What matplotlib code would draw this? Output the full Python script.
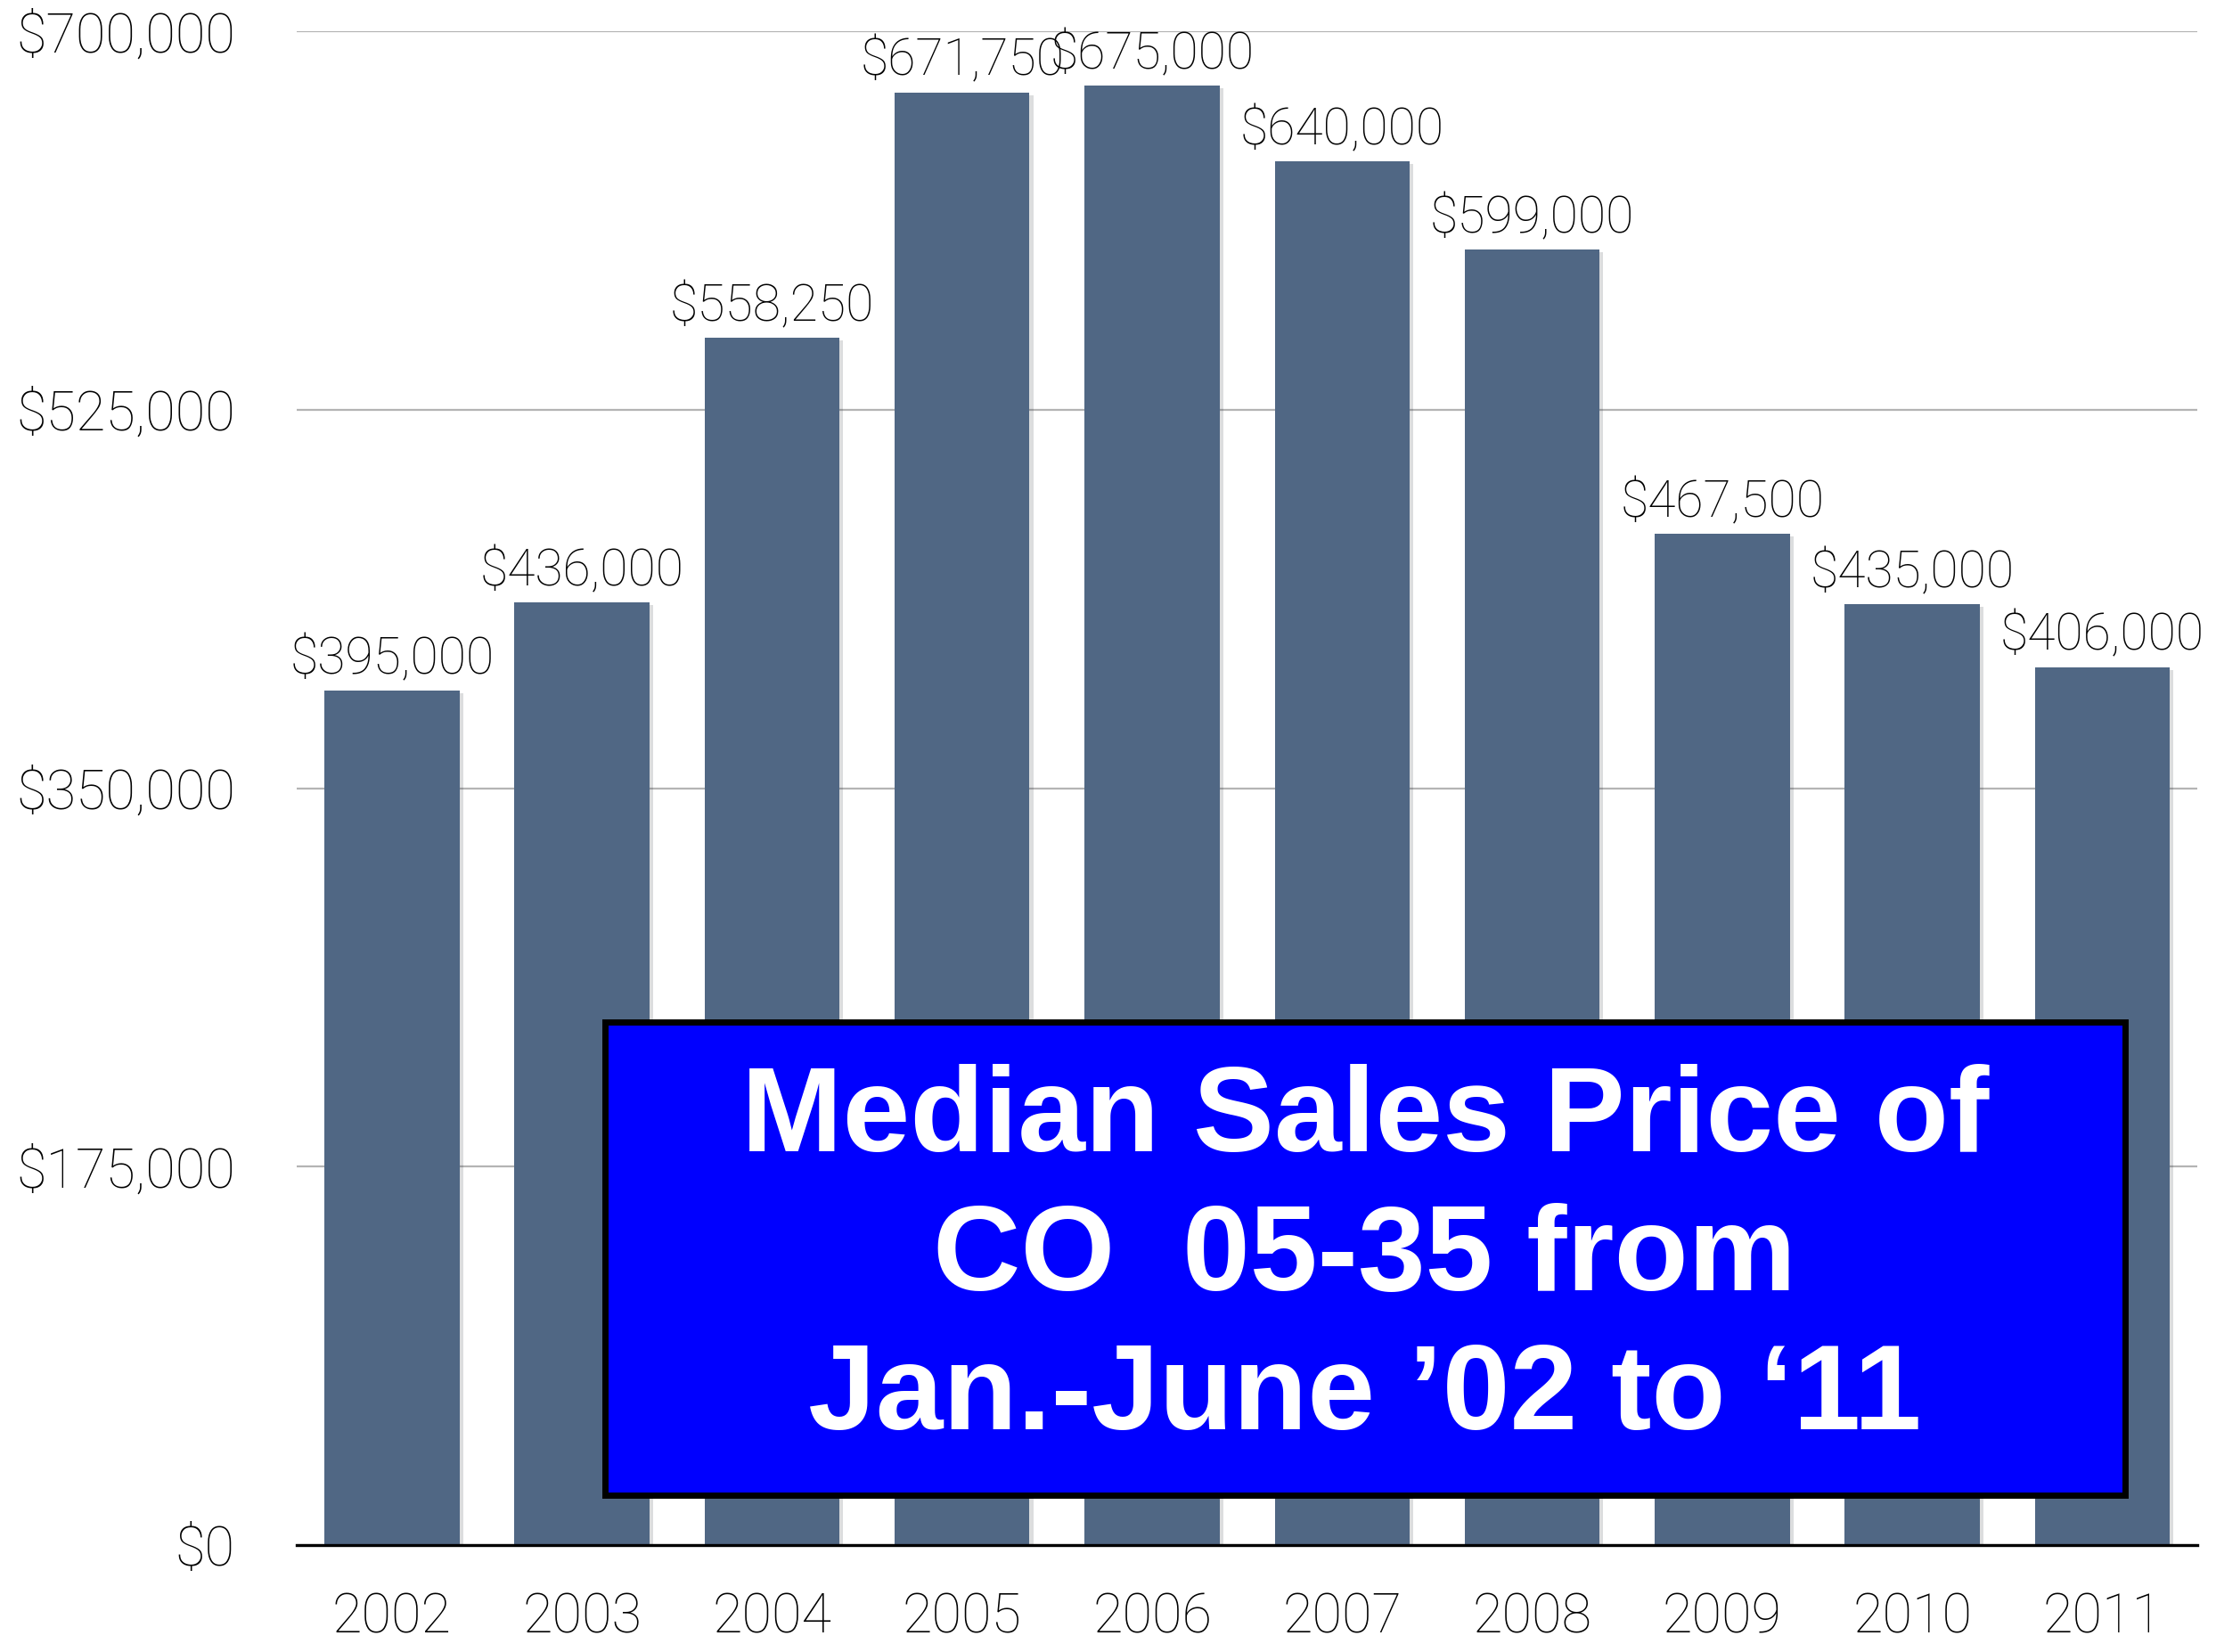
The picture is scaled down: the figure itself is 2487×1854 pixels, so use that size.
import matplotlib.pyplot as plt
from matplotlib import patches
from matplotlib import patheffects as pe
from matplotlib.ticker import FuncFormatter

## median sales price bar chart with boxed title

years = ['2002', '2003', '2004', '2005', '2006', '2007', '2008', '2009', '2010', '2011']
prices = [395000, 436000, 558250, 671750, 675000, 640000, 599000, 467500, 435000, 406000]
yticks = [0, 175000, 350000, 525000, 700000]
title_lines = ['Median Sales Price of', 'CO  05-35 from', 'Jan.-June \u201902 to \u201811']

bar_color = '#506784'
light_font = ['Roboto', 'DejaVu Sans']

fig = plt.figure(figsize=(24.87, 18.54), dpi=100)
ax = fig.add_axes([0.134, 0.0647, 0.8576, 0.9163])

x = range(len(years))
bars = ax.bar(x, prices, width=0.71, color=bar_color, zorder=3)
for b in bars:
    b.set_path_effects([pe.SimplePatchShadow(offset=(3, -2), alpha=0.15), pe.Normal()])

# value labels above bars
for xi, v in zip(x, prices):
    ax.annotate('${:,.0f}'.format(v), (xi, v), xytext=(0, 5), textcoords='offset points',
                ha='center', va='bottom', fontsize=41, family=light_font,
                fontweight='light', color='black', zorder=4)

ax.set_xlim(-0.5, len(years) - 0.5)
ax.set_ylim(0, 700000)
ax.set_yticks(yticks)
ax.yaxis.set_major_formatter(FuncFormatter(lambda v, p: '${:,.0f}'.format(v)))
ax.set_xticks(list(x))
ax.set_xticklabels(years)
ax.tick_params(length=0)
ax.tick_params(axis='y', pad=50)
ax.tick_params(axis='x', pad=38)
for lab in ax.get_xticklabels() + ax.get_yticklabels():
    lab.set_family(light_font)
    lab.set_fontweight('light')
    lab.set_fontsize(44)
    lab.set_color('black')

ax.grid(axis='y', color='#b4b4b4', linewidth=1.6, zorder=0)
for s in ['top', 'right', 'left']:
    ax.spines[s].set_visible(False)
ax.spines['bottom'].set_linewidth(2.4)
ax.spines['bottom'].set_zorder(5)

# boxed title
box = patches.Rectangle((0.162, 0.0327), 0.800, 0.3128, transform=ax.transAxes,
                        facecolor='#0000ff', edgecolor='black', linewidth=5, zorder=6)
ax.add_patch(box)
ax.text(0.562, 0.189, '\n'.join(title_lines), transform=ax.transAxes,
        ha='center', va='center', color='white', fontsize=98, fontweight='bold',
        family=['Liberation Sans', 'DejaVu Sans'], linespacing=1.31, zorder=7)

fig.savefig('out.png', dpi=100)
